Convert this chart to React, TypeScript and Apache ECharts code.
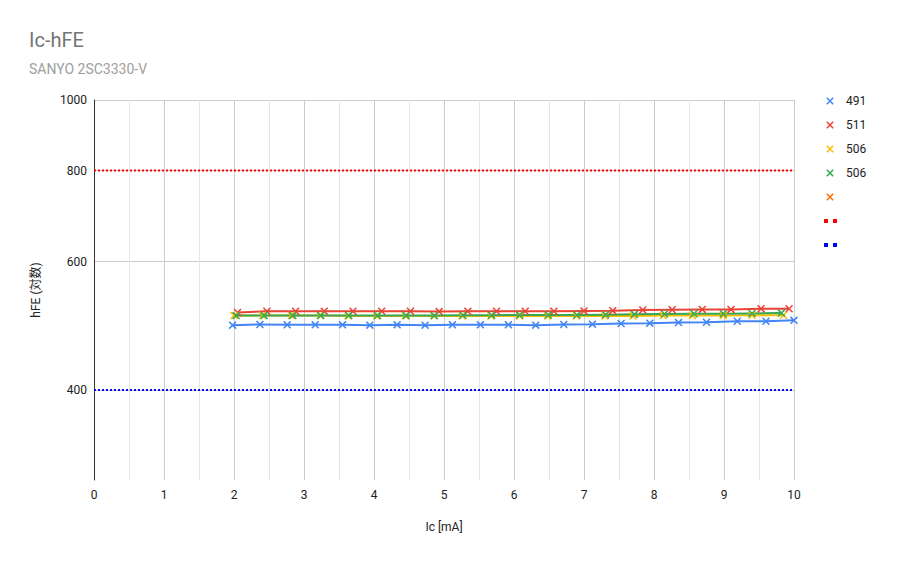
import React, { useEffect, useRef } from "react";
import * as echarts from "echarts";

const titleText = "Ic-hFE";
const subtitleText = "SANYO 2SC3330-V";
const xAxisName = "Ic [mA]";
const yAxisName = "hFE (対数)";
const yTickValues = [400, 600, 800, 1000];

const blueName = "491";
const blueX = [1.98, 2.37, 2.76, 3.16, 3.55, 3.94, 4.33, 4.73, 5.12, 5.52, 5.92, 6.31, 6.71, 7.12, 7.53, 7.94, 8.35, 8.75, 9.19, 9.6, 10.0];
const blueY = [491, 492, 491.5, 491.5, 491.5, 491, 491.5, 491, 491.5, 491.5, 491.5, 491, 492, 492.5, 493.5, 494, 495, 495.5, 497, 497, 498.5];

const redName = "511";
const redX = [2.05, 2.47, 2.88, 3.29, 3.7, 4.11, 4.52, 4.93, 5.34, 5.75, 6.16, 6.57, 7.0, 7.41, 7.84, 8.26, 8.69, 9.1, 9.53, 9.93];
const redY = [511, 513, 513, 513, 513, 513, 513, 512.5, 513, 513, 513, 513, 513.5, 514, 515, 515.5, 516, 516, 517, 517];

const yellowName = "506";
const yellowX = [2.0, 2.41, 2.82, 3.23, 3.63, 4.04, 4.45, 4.86, 5.26, 5.67, 6.08, 6.48, 6.89, 7.3, 7.7, 8.13, 8.55, 8.99, 9.4, 9.85];
const yellowY = [506, 506, 506, 506, 505.5, 505.5, 505.5, 505.5, 505.5, 505.5, 505.5, 505.5, 505.5, 505.5, 505.5, 506, 506, 506, 506.5, 506.5];

const greenName = "506 ";
const greenX = [2.03, 2.43, 2.84, 3.24, 3.64, 4.05, 4.46, 4.86, 5.27, 5.68, 6.08, 6.49, 6.9, 7.31, 7.72, 8.15, 8.57, 8.99, 9.4, 9.82];
const greenY = [506, 506, 506, 506, 506, 506, 506, 506, 506.5, 506.5, 507, 507, 507, 507.5, 508, 508.5, 509, 509, 509.5, 510];

const orangeName = "  ";
const orangeX: number[] = [];
const orangeY: number[] = [];

const upperLimitName = "   ";
const upperLimitX = [0, 10];
const upperLimitY = [800, 800];

const lowerLimitName = "    ";
const lowerLimitX = [0, 10];
const lowerLimitY = [400, 400];

function crossPath(cx: number, cy: number, a: number, t: number): string {
  const e = t / (2 * Math.SQRT2);
  const p1 = [[-a + e, -a - e], [a + e, a - e], [a - e, a + e], [-a - e, -a + e]];
  const p2 = [[-a - e, a - e], [a - e, -a - e], [a + e, -a + e], [-a + e, a + e]];
  const toD = (pts: number[][]) =>
    "M" + pts.map(([x, y]) => `${(cx + x).toFixed(3)},${(cy + y).toFixed(3)}`).join("L") + "Z";
  return toD(p1) + toD(p2);
}

const markerSymbol = "path://" + crossPath(5, 5, 5, 2.2);
const legendCross = "path://M0,0L14,0M0,14L14,14" + crossPath(7, 7, 3.2, 1.5);
const legendDots = "path://M0,0L14,0M0,14L14,14M1,5H5V9H1ZM10,5H14V9H10Z";

const pairs = (xs: number[], ys: number[]) => xs.map((x, i) => [x, ys[i]]);

const FONT = 'Roboto, "Noto Sans CJK JP", sans-serif';

export default function App() {
  const ref = useRef<HTMLDivElement>(null);
  useEffect(() => {
    if (!ref.current) return;
    const chart = echarts.init(ref.current, undefined, { renderer: "svg" });

    const dataSeries = (name: string, color: string, xs: number[], ys: number[]) => ({
      name,
      type: "line",
      data: pairs(xs, ys),
      symbol: markerSymbol,
      symbolSize: 8,
      showSymbol: true,
      itemStyle: { color, borderWidth: 0 },
      lineStyle: { color, width: 2 },
      emphasis: { disabled: true },
    });

    const limitSeries = (name: string, color: string, xs: number[], ys: number[]) => ({
      name,
      type: "line",
      data: pairs(xs, ys),
      symbol: "none",
      showSymbol: false,
      itemStyle: { color, borderWidth: 0 },
      lineStyle: { color, width: 2, type: [2, 2] },
      emphasis: { disabled: true },
      z: 3,
    });

    chart.setOption({
      animation: false,
      textStyle: { fontFamily: FONT },
      title: {
        text: titleText,
        subtext: subtitleText,
        left: 29,
        top: 30,
        itemGap: 12,
        padding: 0,
        textStyle: { fontSize: 20, fontWeight: "normal", color: "#757575", fontFamily: FONT },
        subtextStyle: { fontSize: 14, color: "#9e9e9e", fontFamily: FONT },
      },
      legend: {
        orient: "vertical",
        left: 823,
        top: 94,
        itemWidth: 14,
        itemHeight: 14,
        itemGap: 10,
        padding: 0,
        formatter: (n: string) => n.trim(),
        itemStyle: { borderWidth: 0 },
        textStyle: { fontSize: 12, color: "#222222", fontFamily: FONT, padding: [0, 0, 0, 4] },
        data: [
          { name: blueName, icon: legendCross },
          { name: redName, icon: legendCross },
          { name: yellowName, icon: legendCross },
          { name: greenName, icon: legendCross },
          { name: orangeName, icon: legendCross },
          { name: upperLimitName, icon: legendDots },
          { name: lowerLimitName, icon: legendDots },
        ],
      },
      grid: { left: 94, top: 100, width: 700, height: 380 },
      xAxis: {
        type: "value",
        min: 0,
        max: 10,
        interval: 1,
        name: xAxisName,
        nameLocation: "middle",
        nameGap: 41,
        nameTextStyle: { fontSize: 12, color: "#222222", fontFamily: FONT },
        axisLine: { show: false },
        axisTick: { show: false },
        axisLabel: { fontSize: 12, color: "#222222", margin: 9, fontFamily: FONT },
        splitLine: { show: true, lineStyle: { color: "#cccccc", width: 1 } },
        minorTick: { show: false, splitNumber: 2 },
        minorSplitLine: { show: true, lineStyle: { color: "#e6e6e6", width: 1 } },
      },
      yAxis: {
        type: "log",
        logBase: 10,
        min: 301,
        max: 1000,
        name: yAxisName,
        nameLocation: "middle",
        nameGap: 52,
        nameTextStyle: { fontSize: 12, color: "#222222", fontFamily: FONT },
        axisLine: { show: true, lineStyle: { color: "#333333", width: 1 } },
        axisTick: { show: false, customValues: yTickValues },
        axisLabel: {
          customValues: yTickValues,
          fontSize: 12,
          color: "#222222",
          margin: 7,
          fontFamily: FONT,
          formatter: (v: number) => String(Math.round(v)),
        },
        splitLine: { show: true, lineStyle: { color: "#cccccc", width: 1 } },
        minorSplitLine: { show: false },
      },
      series: [
        dataSeries(blueName, "#4285f4", blueX, blueY),
        dataSeries(redName, "#ea4335", redX, redY),
        dataSeries(yellowName, "#fbbc04", yellowX, yellowY),
        dataSeries(greenName, "#34a853", greenX, greenY),
        dataSeries(orangeName, "#ff6d01", orangeX, orangeY),
        limitSeries(upperLimitName, "#ff0000", upperLimitX, upperLimitY),
        limitSeries(lowerLimitName, "#0000ff", lowerLimitX, lowerLimitY),
      ],
    });
    return () => chart.dispose();
  }, []);
  return (
    <div
      ref={ref}
      style={{ position: "fixed", left: 0, top: 0, width: 908, height: 562, background: "#ffffff" }}
    />
  );
}
